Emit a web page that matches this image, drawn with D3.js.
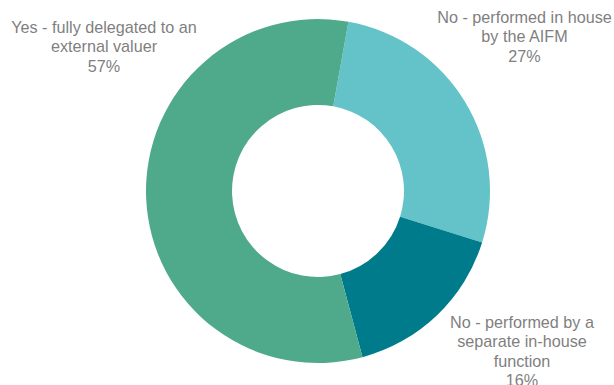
<!DOCTYPE html>
<html><head><meta charset="utf-8">
<script src="https://cdn.jsdelivr.net/npm/d3@7"></script>
<style>body{margin:0;background:#fff}svg{display:block}</style>
</head><body>
<svg id="c" width="614" height="385"></svg>
<script>
const categories = ["No - performed in house by the AIFM", "No - performed by a separate in-house function", "Yes - fully delegated to an external valuer"];
const values = [27, 16, 57];
const colors = ["#63C3C9", "#007B8C", "#4EAA8B"];
const labelLines = [["No - performed in house", "by the AIFM", "27%"], ["No - performed by a", "separate in-house", "function", "16%"], ["Yes - fully delegated to an", "external valuer", "57%"]];
const labelPos = [[524.5, 23], [522, 328], [104, 33]];

const svg = d3.select("#c");
const cx = 318, cy = 191, R = 172, r = 86;
const start = 10.2 * Math.PI / 180;
const pie = d3.pie().sort(null).startAngle(start).endAngle(start + 2 * Math.PI);
const arc = d3.arc().innerRadius(r).outerRadius(R);
const g = svg.append("g").attr("transform", `translate(${cx},${cy})`);
g.selectAll("path").data(pie(values)).join("path")
  .attr("d", arc).attr("fill", (d, i) => colors[i]);

labelLines.forEach((lines, i) => {
  const t = svg.append("text").attr("x", labelPos[i][0]).attr("y", labelPos[i][1])
    .attr("text-anchor", "middle").attr("font-family", "Liberation Sans, Arial, sans-serif")
    .attr("font-size", 16.2).attr("fill", "#7f7f7f");
  lines.forEach((l, j) => t.append("tspan").attr("x", labelPos[i][0]).attr("dy", j === 0 ? 0 : 19.3).text(l));
});
</script>
</body></html>
